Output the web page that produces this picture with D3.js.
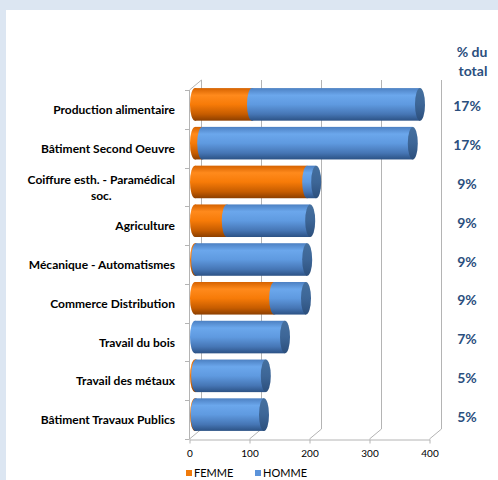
<!DOCTYPE html>
<html>
<head>
<meta charset="utf-8">
<script src="https://cdn.jsdelivr.net/npm/d3@7"></script>
<style>
  body { margin: 0; }
  svg { display: block; font-family: Lato, "Open Sans", sans-serif; }
</style>
</head>
<body>
<svg id="chart"></svg>
<script>
let categories = [
  "Production alimentaire",
  "Bâtiment Second Oeuvre",
  "Coiffure esth. - Paramédical soc.",
  "Agriculture",
  "Mécanique - Automatismes",
  "Commerce Distribution",
  "Travail du bois",
  "Travail des métaux",
  "Bâtiment Travaux Publics"
];
let femme = [95, 12, 187, 53, 2, 132, 0, 2, 1];
let homme = [280, 351, 15, 139, 185, 53, 150, 116, 114];
let pctLabels = ["17%", "17%", "9%", "9%", "9%", "9%", "7%", "5%", "5%"];
let xTicks = [0, 100, 200, 300, 400];
let seriesNames = ["FEMME", "HOMME"];

let width = 498;
let height = 480;
let depthX = 12, depthY = -10;
let textBlue = "#2b4f7e";
let gridColor = "#b4b4b4";

let svg = d3.select('#chart').attr('width', width).attr('height', height);

// page background + white panel
svg.append('rect').attr('width', width).attr('height', height).attr('fill', '#dce6f2');
svg.append('rect').attr('x', 6).attr('y', 10).attr('width', width - 6).attr('height', height - 10).attr('fill', '#ffffff');

let rows = categories.map((c, i) => ({ cat: c, femme: femme[i], homme: homme[i] }));

let xScale = d3.scaleLinear().domain([0, 400]).range([189, 429]);
let yScale = d3.scaleBand().domain(categories).range([90, 439]);

// gradients for cylinder shading
let defs = svg.append('defs');
let grads = {
  femme: [["0%", "#d56200"], ["22%", "#ff8a1c"], ["50%", "#f77b08"], ["80%", "#c65c00"], ["100%", "#8c3f00"]],
  homme: [["0%", "#4c80c2"], ["22%", "#6ba7ec"], ["50%", "#5f9ae0"], ["80%", "#4676b5"], ["100%", "#2c5285"]],
  cap: [["0%", "#45709f"], ["50%", "#3d6697"], ["100%", "#2c4f7c"]]
};
Object.keys(grads).forEach(k => {
  let g = defs.append('linearGradient').attr('id', 'g-' + k)
    .attr('x1', 0).attr('y1', 0).attr('x2', 0).attr('y2', 1);
  grads[k].forEach(s => g.append('stop').attr('offset', s[0]).attr('stop-color', s[1]));
});

// back wall gridlines and floor
let grid = svg.append('g').attr('stroke', gridColor).attr('stroke-width', 1).attr('fill', 'none');
xTicks.forEach(t => {
  let x = Math.round(xScale(t)) + 0.5;
  grid.append('line').attr('x1', x + depthX).attr('x2', x + depthX)
    .attr('y1', 90 + depthY).attr('y2', 439 + depthY);
  grid.append('line').attr('x1', x).attr('y1', 439)
    .attr('x2', x + depthX).attr('y2', 439 + depthY);
});
// left wall
grid.append('line').attr('x1', 189.5).attr('y1', 90).attr('x2', 189.5 + depthX).attr('y2', 90 + depthY);
grid.append('line').attr('x1', 189.5).attr('y1', 90).attr('x2', 189.5).attr('y2', 439);
categories.concat([null]).forEach((c, i) => {
  let y = Math.round(90 + yScale.step() * i) + 0.5;
  grid.append('line').attr('x1', 185).attr('x2', 189.5).attr('y1', y).attr('y2', y);
});

// x axis on the front floor edge
let xAxis = d3.axisBottom(xScale).tickValues(xTicks).tickSize(4).tickSizeOuter(0).tickPadding(6);
let gx = svg.append('g').attr('transform', 'translate(0.5,439.5)').call(xAxis);
gx.select('.domain').attr('stroke', gridColor);
gx.selectAll('.tick line').attr('stroke', gridColor);
gx.selectAll('.tick text').attr('font-size', 10).attr('fill', '#000').attr('font-family', 'Lato, sans-serif');

// stacked cylinders
let stacked = d3.stack().keys(['femme', 'homme'])(rows);
let r = yScale.bandwidth() * 0.42;
let rx = 5;
let bars = svg.append('g');
// femme first, homme's left cap then hides most of a thin femme slice
stacked.forEach(layer => {
  layer.forEach(d => {
    let cy = yScale(d.data.cat) + yScale.bandwidth() / 2 + depthY / 2;
    let x1 = xScale(d[0]) + depthX / 2;
    let x2 = xScale(d[1]) + depthX / 2;
    if (d[1] - d[0] <= 0) return;
    bars.append('ellipse').attr('cx', x1).attr('cy', cy).attr('rx', rx).attr('ry', r)
      .attr('fill', 'url(#g-' + layer.key + ')');
    bars.append('rect').attr('x', x1).attr('y', cy - r).attr('width', x2 - x1).attr('height', 2 * r)
      .attr('fill', 'url(#g-' + layer.key + ')');
    if (layer.key === 'homme') {
      bars.append('ellipse').attr('cx', x2).attr('cy', cy).attr('rx', rx).attr('ry', r)
        .attr('fill', 'url(#g-cap)');
    }
  });
});

// category labels
let labels = svg.append('g').attr('font-size', 12).attr('font-weight', 'bold').attr('fill', '#000');
categories.forEach(c => {
  let cy = yScale(c) + yScale.bandwidth() / 2;
  if (c.indexOf('Paramédical') > 0) {
    let t = labels.append('text').attr('text-anchor', 'middle');
    let line1 = t.append('tspan').text('Coiffure esth. - Paramédical');
    let w = line1.node().getComputedTextLength();
    let cx = 175 - w / 2;
    line1.attr('x', cx).attr('y', cy - 3);
    t.append('tspan').attr('x', cx).attr('y', cy + 13).text('soc.');
  } else {
    labels.append('text').attr('x', 175).attr('y', cy + 4.5).attr('text-anchor', 'end').text(c);
  }
});

// % du total column
let pct = svg.append('g').attr('font-size', 14).attr('font-weight', 'bold').attr('fill', textBlue).attr('text-anchor', 'middle');
pct.append('text').attr('x', 472).attr('y', 57).text('% du');
pct.append('text').attr('x', 473).attr('y', 76).text('total');
categories.forEach((c, i) => {
  pct.append('text').attr('x', 467).attr('y', yScale(c) + yScale.bandwidth() / 2 + 2).text(pctLabels[i]);
});

// legend
let legendColors = ['#f07a0a', '#5b93da'];
let legendX = [186, 255];
let legend = svg.append('g').attr('font-size', 11);
seriesNames.forEach((s, i) => {
  legend.append('rect').attr('x', legendX[i]).attr('y', 470).attr('width', 6).attr('height', 6).attr('fill', legendColors[i]);
  legend.append('text').attr('x', legendX[i] + 8).attr('y', 477).text(s);
});
</script>
</body>
</html>
